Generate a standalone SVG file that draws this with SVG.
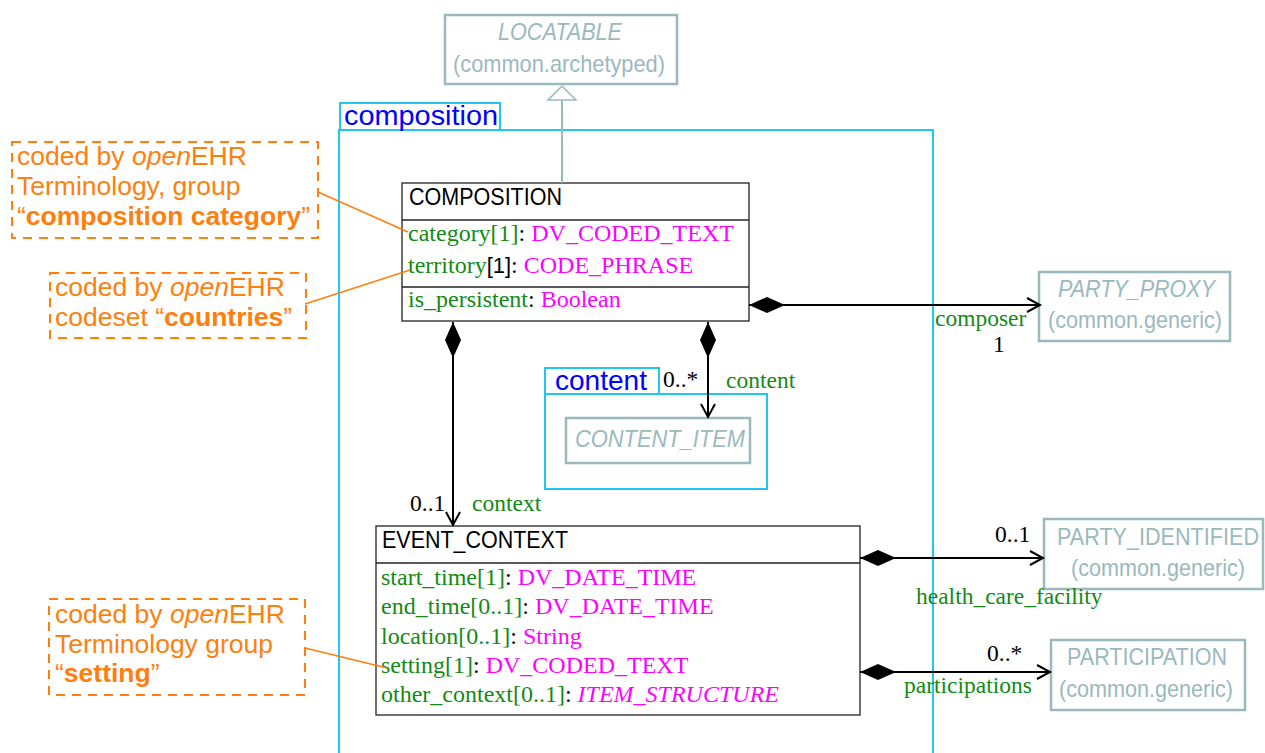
<svg xmlns="http://www.w3.org/2000/svg" width="1265" height="753" viewBox="0 0 1265 753">
<style>
.pkg{fill:none;stroke:#22c6f2;stroke-width:2}
.pkgt{font-family:"Liberation Sans Narrow","Liberation Sans",Arial,sans-serif;font-size:28px;fill:#0000ff}
.cls{fill:#fff;stroke:#222;stroke-width:1.3}
.sep{stroke:#222;stroke-width:1.3}
.ext{fill:#fff;stroke:#9ab9bd;stroke-width:2.5}
.extt{font-family:"Liberation Sans Narrow","Liberation Sans",Arial,sans-serif;font-size:24px;fill:#9ab9bd}
.title{font-family:"Liberation Sans Narrow","Liberation Sans",Arial,sans-serif;font-size:24px;fill:#000}
.attr{font-family:"Liberation Serif","Times New Roman",serif;font-size:24px;fill:#138a13}
.ty{fill:#ff00ff}
.bk{fill:#000}
.lbl{font-family:"Liberation Serif","Times New Roman",serif;font-size:23.5px;fill:#138a13}
.mul{font-family:"Liberation Serif","Times New Roman",serif;font-size:23.5px;fill:#000}
.note{fill:#fff;stroke:#ff7f0e;stroke-width:2;stroke-dasharray:9,7}
.nt{font-family:"Liberation Sans",Arial,sans-serif;font-size:26.5px;fill:#ff7f0e}
.nl{stroke:#ff7f0e;stroke-width:1.5;fill:none}
.ln{stroke:#000;stroke-width:2;fill:none}
</style>
<defs>
<marker id="dia" markerUnits="userSpaceOnUse" markerWidth="40" markerHeight="20" viewBox="0 -10 40 20" refX="0" refY="0" orient="auto" overflow="visible">
<path d="M0,0 L18,-8 L36,0 L18,8 Z" fill="#000"/>
</marker>
<marker id="open" markerUnits="userSpaceOnUse" markerWidth="16" markerHeight="18" viewBox="-14 -9 16 18" refX="0" refY="0" orient="auto" overflow="visible">
<path d="M-13,-7 L0,0 L-13,7" fill="none" stroke="#000" stroke-width="2"/>
</marker>
</defs>
<rect width="1265" height="753" fill="#fff"/>

<g id="pkg-composition">
<rect class="pkg" x="339" y="130" width="594" height="630"/>
<rect class="pkg" x="340" y="103" width="160" height="27"/>
<text class="pkgt" x="344" y="125" textLength="154" lengthAdjust="spacingAndGlyphs">composition</text>
</g>

<g id="pkg-content">
<rect class="pkg" x="545" y="394" width="222" height="95"/>
<rect class="pkg" x="545" y="368" width="114" height="26"/>
<text class="pkgt" x="555" y="390" textLength="92" lengthAdjust="spacingAndGlyphs">content</text>
</g>

<g id="locatable">
<rect class="ext" x="445" y="15" width="232" height="69"/>
<text class="extt" x="498" y="40" font-style="italic" textLength="124" lengthAdjust="spacingAndGlyphs">LOCATABLE</text>
<text class="extt" x="453" y="72" textLength="212" lengthAdjust="spacingAndGlyphs">(common.archetyped)</text>
</g>

<g id="composition">
<rect class="cls" x="402" y="183" width="347" height="138"/>
<line class="sep" x1="402" y1="220" x2="749" y2="220"/>
<line class="sep" x1="402" y1="287" x2="749" y2="287"/>
<text class="title" x="409" y="205" textLength="153" lengthAdjust="spacingAndGlyphs">COMPOSITION</text>
<text class="attr" x="408" y="241">category[1]<tspan class="bk">: </tspan><tspan class="ty">DV_CODED_TEXT</tspan></text>
<text class="attr" x="408" y="273">territory<tspan class="bk" font-family="Liberation Sans Narrow, Liberation Sans, Arial, sans-serif" font-size="22">[1]</tspan><tspan class="bk">: </tspan><tspan class="ty">CODE_PHRASE</tspan></text>
<text class="attr" x="408" y="307">is_persistent<tspan class="bk">: </tspan><tspan class="ty">Boolean</tspan></text>
</g>

<g id="party_proxy">
<rect class="ext" x="1039" y="272" width="191" height="69"/>
<text class="extt" x="1058" y="297" font-style="italic" textLength="157" lengthAdjust="spacingAndGlyphs">PARTY_PROXY</text>
<text class="extt" x="1048" y="328" textLength="174" lengthAdjust="spacingAndGlyphs">(common.generic)</text>
</g>

<g id="content_item">
<rect class="ext" x="566" y="418" width="184" height="45"/>
<text class="extt" x="575" y="447" font-style="italic" textLength="170" lengthAdjust="spacingAndGlyphs">CONTENT_ITEM</text>
</g>

<g id="event_context">
<rect class="cls" x="376" y="526" width="484" height="189"/>
<line class="sep" x1="376" y1="563" x2="860" y2="563"/>
<text class="title" x="382" y="548" textLength="186" lengthAdjust="spacingAndGlyphs">EVENT_CONTEXT</text>
<text class="attr" x="381" y="585">start_time[1]<tspan class="bk">: </tspan><tspan class="ty">DV_DATE_TIME</tspan></text>
<text class="attr" x="381" y="614">end_time[0..1]<tspan class="bk">: </tspan><tspan class="ty">DV_DATE_TIME</tspan></text>
<text class="attr" x="381" y="644">location[0..1]<tspan class="bk">: </tspan><tspan class="ty">String</tspan></text>
<text class="attr" x="381" y="673">setting[1]<tspan class="bk">: </tspan><tspan class="ty">DV_CODED_TEXT</tspan></text>
<text class="attr" x="381" y="702">other_context[0..1]<tspan class="bk">: </tspan><tspan class="ty" font-style="italic">ITEM_STRUCTURE</tspan></text>
</g>

<g id="party_identified">
<rect class="ext" x="1044" y="519" width="219" height="70"/>
<text class="extt" transform="translate(1057,545) scale(0.9,1)" x="0" y="0">PARTY_IDENTIFIED</text>
<text class="extt" x="1071" y="576" textLength="174" lengthAdjust="spacingAndGlyphs">(common.generic)</text>
</g>

<g id="participation">
<rect class="ext" x="1051" y="640" width="194" height="70"/>
<text class="extt" x="1067" y="665" textLength="160" lengthAdjust="spacingAndGlyphs">PARTICIPATION</text>
<text class="extt" x="1059" y="697" textLength="174" lengthAdjust="spacingAndGlyphs">(common.generic)</text>
</g>

<g id="note-category">
<rect class="note" x="12" y="142" width="306" height="96"/>
<text class="nt" x="17" y="165">coded by <tspan font-style="italic">open</tspan>EHR</text>
<text class="nt" x="17" y="195">Terminology, group</text>
<text class="nt" x="17" y="225">“<tspan font-weight="bold">composition category</tspan>”</text>
</g>

<g id="note-territory">
<rect class="note" x="50" y="273" width="256" height="65"/>
<text class="nt" x="55" y="296">coded by <tspan font-style="italic">open</tspan>EHR</text>
<text class="nt" x="55" y="326">codeset “<tspan font-weight="bold">countries</tspan>”</text>
</g>

<g id="note-setting">
<rect class="note" x="49" y="599" width="256" height="96"/>
<text class="nt" x="55" y="623">coded by <tspan font-style="italic">open</tspan>EHR</text>
<text class="nt" x="55" y="653">Terminology group</text>
<text class="nt" x="55" y="682">“<tspan font-weight="bold">setting</tspan>”</text>
</g>

<g id="connectors">
<line x1="562" y1="183" x2="562" y2="100" stroke="#9ab9bd" stroke-width="2"/>
<polygon points="562,86 548,100 576,100" fill="#fff" stroke="#9ab9bd" stroke-width="1.5"/>

<path class="ln" d="M749,305 H1040" marker-start="url(#dia)" marker-end="url(#open)"/>
<text class="lbl" x="935" y="326">composer</text>
<text class="mul" x="993" y="352">1</text>

<path class="ln" d="M453,322 V525" marker-start="url(#dia)" marker-end="url(#open)"/>
<text class="mul" x="410" y="511">0..1</text>
<text class="lbl" x="472" y="511">context</text>

<path class="ln" d="M708,322 V417" marker-start="url(#dia)" marker-end="url(#open)"/>
<text class="mul" x="663" y="387">0..*</text>
<text class="lbl" x="726" y="388">content</text>

<path class="ln" d="M860,558 H1043" marker-start="url(#dia)" marker-end="url(#open)"/>
<text class="mul" x="995" y="542">0..1</text>
<text class="lbl" x="916" y="604">health_care_facility</text>

<path class="ln" d="M860,672 H1050" marker-start="url(#dia)" marker-end="url(#open)"/>
<text class="mul" x="987" y="661">0..*</text>
<text class="lbl" x="904" y="693">participations</text>

<line class="nl" x1="318" y1="192" x2="408" y2="232"/>
<line class="nl" x1="305" y1="304" x2="410" y2="270"/>
<line class="nl" x1="305" y1="648" x2="387" y2="668"/>
</g>
</svg>
